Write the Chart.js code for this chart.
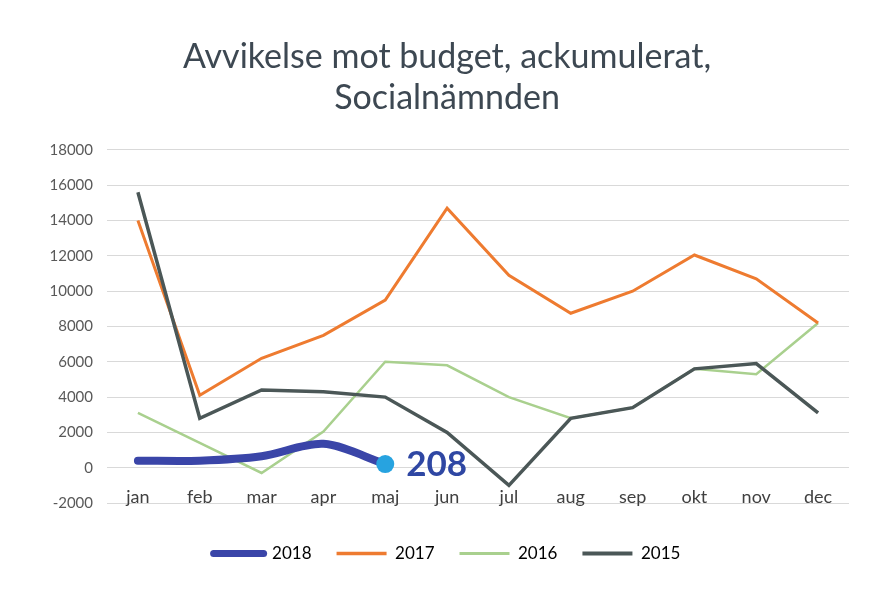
<!DOCTYPE html>
<html>
<head>
<meta charset="utf-8">
<script src="https://cdn.jsdelivr.net/npm/chart.js@4"></script>
<style>
html,body{margin:0;padding:0;background:#fff;}
canvas{display:block;}
</style>
</head>
<body>
<canvas id="c" width="869" height="590"></canvas>
<script>
const months = ['jan','feb','mar','apr','maj','jun','jul','aug','sep','okt','nov','dec'];
const s2018 = [400, 400, 650, 1350, 208];
const s2017 = [14000, 4100, 6200, 7500, 9500, 14700, 10900, 8750, 10000, 12050, 10700, 8200];
const s2016 = [3100, 1400, -300, 2050, 6000, 5800, 4000, 2800, 3400, 5600, 5300, 8200];
const s2015 = [15600, 2800, 4400, 4300, 4000, 2000, -1000, 2800, 3400, 5600, 5900, 3100];
const seriesNames = ['2018','2017','2016','2015'];
const titleLines = ['Avvikelse mot budget, ackumulerat,', 'Socialnämnden'];
const lastLabel = '208';

const labelPlugin = {
  id: 'lastLabel',
  afterDatasetsDraw(chart) {
    const meta = chart.getDatasetMeta(0);
    const pt = meta.data[meta.data.length - 1];
    const ctx = chart.ctx;
    ctx.save();
    ctx.font = 'bold 35px Lato';
    ctx.fillStyle = '#2f47a3';
    ctx.textBaseline = 'middle';
    ctx.textAlign = 'left';
    ctx.fillText(lastLabel, pt.x + 21, pt.y + 1);
    ctx.restore();
  }
};

new Chart(document.getElementById('c'), {
  type: 'line',
  data: {
    labels: months,
    datasets: [
      { label: seriesNames[0], data: s2018, borderColor: '#3a45a8', backgroundColor: '#3a45a8',
        borderWidth: 8, borderCapStyle: 'round', tension: 0.3, order: 0,
        pointRadius: [0,0,0,0,9], pointBackgroundColor: '#27a3e0', pointBorderWidth: 0, pointHoverRadius: 0 },
      { label: seriesNames[1], data: s2017, borderColor: '#ee7b30', backgroundColor: '#ee7b30',
        borderWidth: 3, tension: 0, order: 2, pointRadius: 0 },
      { label: seriesNames[2], data: s2016, borderColor: '#a9d08e', backgroundColor: '#a9d08e',
        borderWidth: 2.5, tension: 0, order: 3, pointRadius: 0 },
      { label: seriesNames[3], data: s2015, borderColor: '#4b5757', backgroundColor: '#4b5757',
        borderWidth: 3.5, tension: 0, order: 1, pointRadius: 0 }
    ]
  },
  options: {
    responsive: false,
    animation: false,
    devicePixelRatio: 1,
    layout: { padding: { left: 45, right: 20, top: 0, bottom: 18 } },
    plugins: {
      title: {
        display: true,
        text: titleLines,
        color: '#3d4852',
        font: { family: 'Lato', size: 34, weight: 'normal', lineHeight: 1.22 },
        padding: { top: 36, bottom: 31 }
      },
      legend: {
        position: 'bottom',
        labels: {
          usePointStyle: true,
          pointStyle: 'line',
          pointStyleWidth: 50,
          boxHeight: 8,
          padding: 25,
          color: '#333333',
          font: { family: 'Lato', size: 17 },
          generateLabels: (chart) => chart.data.datasets.map((ds, i) => ({
            text: ds.label,
            strokeStyle: ds.borderColor,
            fillStyle: ds.borderColor,
            lineWidth: i === 0 ? 7 : ds.borderWidth + 0.5,
            lineCap: i === 0 ? 'round' : 'butt',
            pointStyle: 'line',
            hidden: false,
            datasetIndex: i
          }))
        }
      },
      tooltip: { enabled: false }
    },
    scales: {
      x: {
        offset: true,
        grid: { display: false, drawTicks: false },
        border: { display: false },
        afterFit: (s) => { s.height = 17; },
        ticks: { mirror: true, color: '#404040', font: { family: 'Lato', size: 18 }, padding: -5, maxRotation: 0 }
      },
      y: {
        min: -2000, max: 18000,
        grid: { color: '#d9d9d9', lineWidth: 1, drawTicks: false },
        border: { display: false },
        afterFit: (s) => { s.width = 62; },
        ticks: { stepSize: 2000, color: '#595959', font: { family: 'Lato', size: 15 }, padding: 14,
                 callback: (v) => String(v) }
      }
    }
  },
  plugins: [labelPlugin]
});
</script>
</body>
</html>
